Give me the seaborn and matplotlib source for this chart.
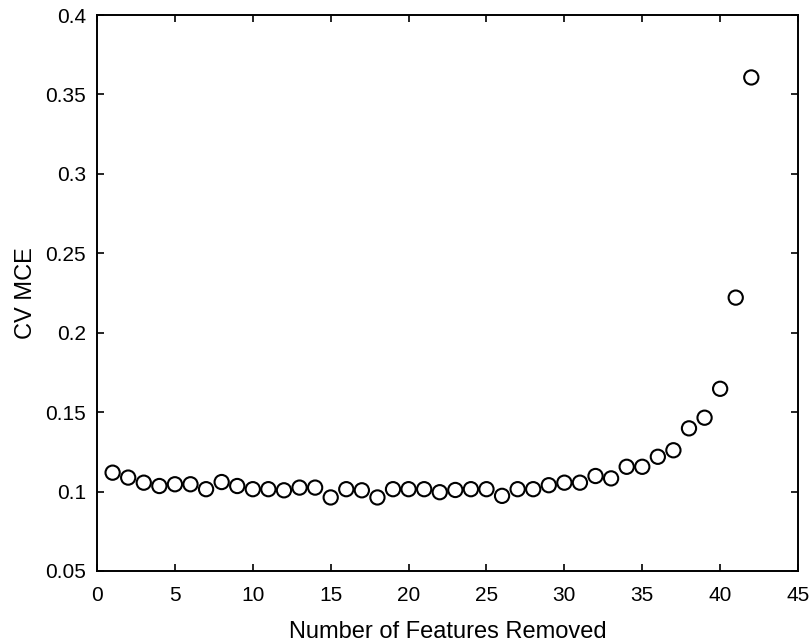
import pandas as pd
import seaborn as sns
import matplotlib.pyplot as plt

# values
features_removed = list(range(1, 43))
cv_mce = [
    0.1119, 0.1088, 0.1056, 0.1035, 0.1046, 0.1046, 0.1015, 0.1060, 0.1035, 0.1015,
    0.1015, 0.1008, 0.1025, 0.1025, 0.0963, 0.1015, 0.1008, 0.0963, 0.1015, 0.1015,
    0.1015, 0.0996, 0.1010, 0.1015, 0.1015, 0.0973, 0.1015, 0.1015, 0.1040, 0.1056,
    0.1056, 0.1098, 0.1083, 0.1156, 0.1156, 0.1219, 0.1260, 0.1398, 0.1465, 0.1647,
    0.2221, 0.3607,
]
x_ticks = [0, 5, 10, 15, 20, 25, 30, 35, 40, 45]
y_ticks = [0.05, 0.1, 0.15, 0.2, 0.25, 0.3, 0.35, 0.4]
y_tick_labels = ["0.05", "0.1", "0.15", "0.2", "0.25", "0.3", "0.35", "0.4"]

data = pd.DataFrame({"Number of Features Removed": features_removed, "CV MCE": cv_mce})

sns.set_style("ticks")
plt.rcParams["font.family"] = ["Liberation Sans", "DejaVu Sans"]
plt.rcParams["text.color"] = "black"
plt.rcParams["axes.labelcolor"] = "black"

fig = plt.figure(figsize=(8.12, 6.42), dpi=100)
ax = fig.add_axes([0.1195, 0.1106, 0.8633, 0.866])

sns.scatterplot(data=data, x="Number of Features Removed", y="CV MCE", ax=ax,
                marker="o", s=105, facecolor="none", edgecolor="black", linewidth=1.5)

ax.set_xlim(0, 45)
ax.set_ylim(0.05, 0.4)
ax.set_xticks(x_ticks)
ax.set_yticks(y_ticks)
ax.set_yticklabels(y_tick_labels)
ax.tick_params(direction="in", length=5, width=1.2, top=True, right=True,
               labelsize=15, colors="black")
ax.tick_params(axis="x", pad=11)
ax.tick_params(axis="y", pad=8)
for side in ax.spines.values():
    side.set_visible(True)
    side.set_linewidth(1.4)
    side.set_color("black")

ax.set_xlabel("Number of Features Removed", fontsize=17, labelpad=11)
ax.set_ylabel("CV MCE", fontsize=17, labelpad=6)

fig.savefig("out.png", dpi=100, facecolor="white")
